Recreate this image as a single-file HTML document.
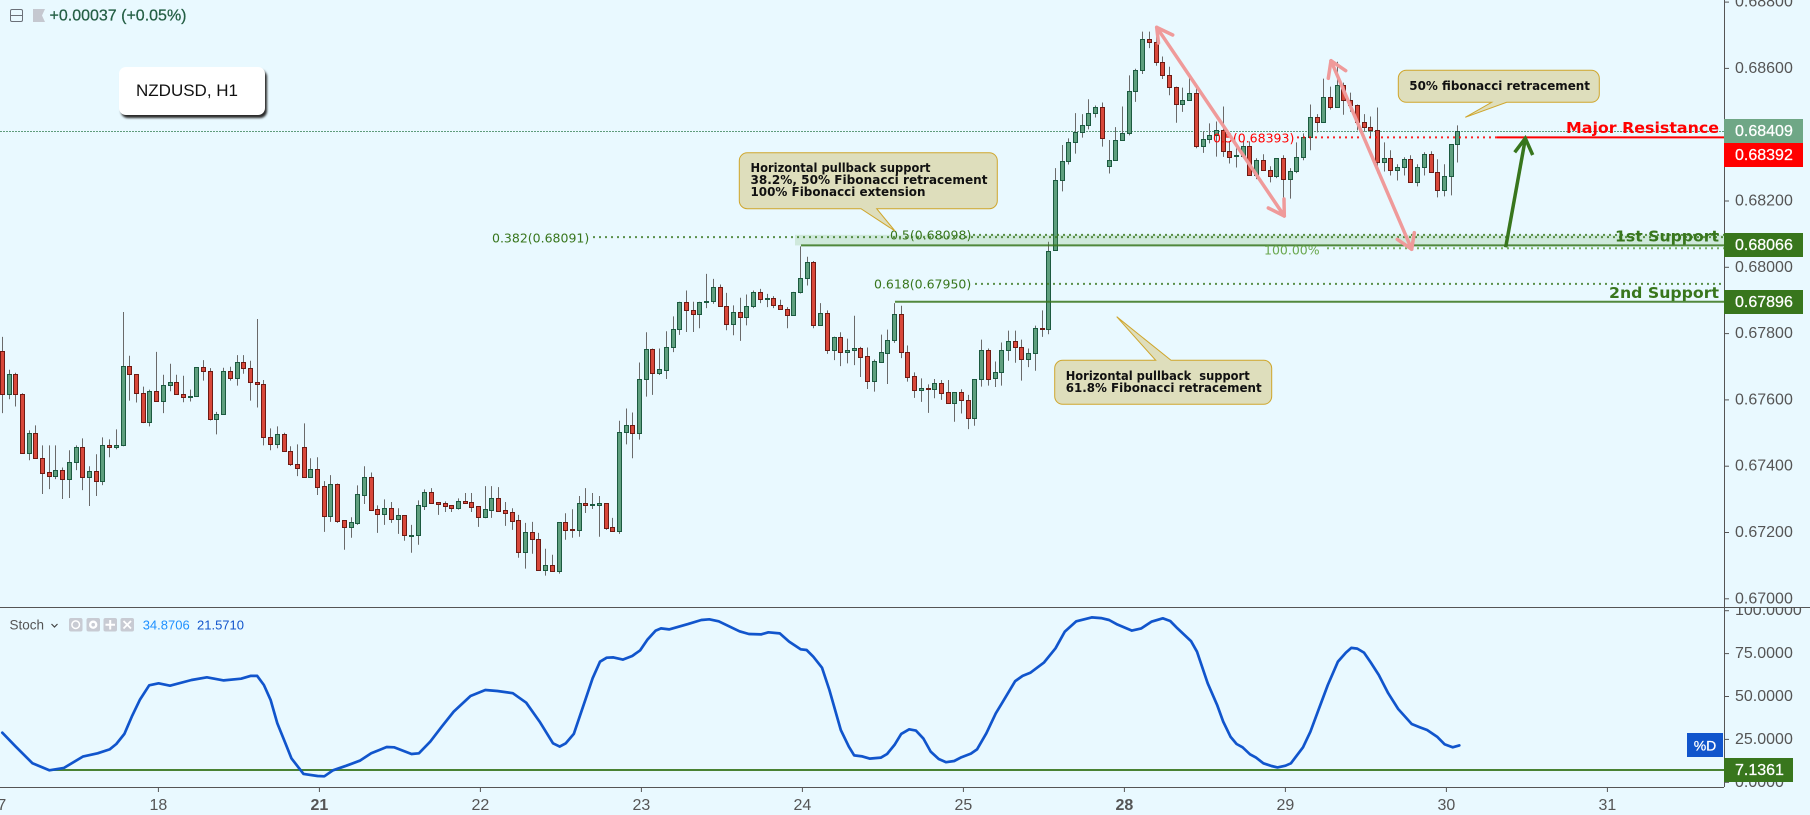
<!DOCTYPE html>
<html lang="en">
<head>
<meta charset="utf-8">
<title>NZDUSD, H1</title>
<style>
html,body{margin:0;padding:0;width:1810px;height:815px;overflow:hidden;background:#e9f9ff}
#chart{position:absolute;left:0;top:0;display:block}
#symbol-box{position:absolute;left:119px;top:67px;width:146px;height:48px;background:#fff;border-radius:7px;box-shadow:2px 3px 2px #2b2b2b;font:17px "Liberation Sans",sans-serif;color:#111;display:flex;align-items:center;justify-content:flex-start;box-sizing:border-box;padding-left:17px}
text{font-family:"Liberation Sans",sans-serif}
.fib{font-family:"DejaVu Sans",sans-serif;font-size:12.5px;fill:#38761d;dominant-baseline:central}
.note{font-family:"DejaVu Sans",sans-serif;font-size:12.5px;font-weight:bold;fill:#111;dominant-baseline:central}
.lvl{font-family:"DejaVu Sans",sans-serif;font-size:15px;font-weight:bold;dominant-baseline:central}
.tick{font-size:16px;fill:#555;dominant-baseline:central}
.flag{font-size:16px;fill:#fff;stroke:#fff;stroke-width:.25;dominant-baseline:central}
.leg{font-size:13px;dominant-baseline:central}
</style>
</head>
<body>
<svg id="chart" xmlns="http://www.w3.org/2000/svg" width="1810" height="815" viewBox="0 0 1810 815">
  <defs>
    <clipPath id="pane-clip"><rect x="0" y="0" width="1724" height="607"/></clipPath>
    <clipPath id="stoch-clip"><rect x="0" y="608" width="1724" height="179"/></clipPath>
    <clipPath id="price-axis-clip"><rect x="1725" y="0" width="85" height="607"/></clipPath>
    <clipPath id="stoch-axis-clip"><rect x="1725" y="608" width="85" height="179"/></clipPath>
  </defs>
  <rect x="0" y="0" width="1810" height="815" fill="#e9f9ff"/>

  <line x1="0" x2="1724" y1="131.5" y2="131.5" stroke="#5f9c7c" stroke-width="1" stroke-dasharray="2 1"/>

  <g id="candles" clip-path="url(#pane-clip)"></g>

  <g id="levels" clip-path="url(#pane-clip)"></g>

  <g>
    <text class="fib" x="492" y="238">0.382(0.68091)</text>
    <text class="fib" x="890" y="235">0.5(0.68098)</text>
    <text class="fib" x="874" y="284">0.618(0.67950)</text>
    <text class="fib" x="1264" y="250" style="fill:#6aa84f">100.00%</text>
    <text class="fib" x="1213" y="138" style="fill:#ff0000">0.5(0.68393)</text>
    <text class="lvl" x="1566" y="128" fill="#ff0000" textLength="153" lengthAdjust="spacingAndGlyphs">Major Resistance</text>
    <text class="lvl" x="1615" y="236.5" fill="#38761d" textLength="104" lengthAdjust="spacingAndGlyphs">1st Support</text>
    <text class="lvl" x="1609" y="293" fill="#38761d" textLength="110" lengthAdjust="spacingAndGlyphs">2nd Support</text>
  </g>

  <g fill="none" stroke="#ef9a9a" stroke-width="3.5" stroke-linecap="round" stroke-linejoin="round">
    <path d="M1156.7 27.3 L1284.3 216"/>
    <path d="M1172.7 35 L1156.7 27.3 L1158.5 43"/>
    <path d="M1268.3 208 L1284.3 216 L1284 199"/>
  </g>
  <g fill="none" stroke="#ef9a9a" stroke-width="3.5" stroke-linecap="round" stroke-linejoin="round">
    <path d="M1331 60.7 L1411.7 249.3"/>
    <path d="M1345.7 70.7 L1331 60.7 L1328.3 78.3"/>
    <path d="M1397.3 239.3 L1411.7 249.3 L1414.3 232.7"/>
  </g>
  <g fill="none" stroke="#38761d" stroke-width="3.5" stroke-linecap="butt" stroke-linejoin="miter">
    <path d="M1505.7 247.3 L1525.3 139"/>
    <path d="M1514.7 152.3 L1525.3 138.3 L1532.7 155"/>
  </g>

  <g>
    <path d="M747.3 152.7 H989.3 a8 8 0 0 1 8 8 V200.7 a8 8 0 0 1 -8 8 H876.7 L895 231 L861 208.7 H747.3 a8 8 0 0 1 -8 -8 V160.7 a8 8 0 0 1 8 -8 Z" fill="#dedebc" stroke="#cfa62c" stroke-width="1"/>
    <text class="note" x="750.5" y="167.3" textLength="180" lengthAdjust="spacingAndGlyphs">Horizontal pullback support</text>
    <text class="note" x="750.5" y="179.3" textLength="237" lengthAdjust="spacingAndGlyphs">38.2%, 50% Fibonacci retracement</text>
    <text class="note" x="750.5" y="191.3" textLength="175" lengthAdjust="spacingAndGlyphs">100% Fibonacci extension</text>
  </g>
  <g>
    <path d="M1062.7 360.3 H1155.7 L1116.7 316.7 L1171 360.3 H1263.7 a8 8 0 0 1 8 8 V396.3 a8 8 0 0 1 -8 8 H1062.7 a8 8 0 0 1 -8 -8 V368.3 a8 8 0 0 1 8 -8 Z" fill="#dedebc" stroke="#cfa62c" stroke-width="1"/>
    <text class="note" x="1065.7" y="375.7" textLength="184" lengthAdjust="spacingAndGlyphs" xml:space="preserve">Horizontal pullback  support</text>
    <text class="note" x="1065.7" y="387.7" textLength="196" lengthAdjust="spacingAndGlyphs">61.8% Fibonacci retracement</text>
  </g>
  <g>
    <path d="M1406.3 70.3 H1591.3 a8 8 0 0 1 8 8 V94.3 a8 8 0 0 1 -8 8 H1506.7 L1465.3 117.3 L1491.7 102.3 H1406.3 a8 8 0 0 1 -8 -8 V78.3 a8 8 0 0 1 8 -8 Z" fill="#dedebc" stroke="#cfa62c" stroke-width="1"/>
    <text class="note" x="1409.3" y="85.7" textLength="180.7" lengthAdjust="spacingAndGlyphs">50% fibonacci retracement</text>
  </g>

  <g id="stoch" clip-path="url(#stoch-clip)"></g>

  <line x1="0" x2="1810" y1="607.5" y2="607.5" stroke="#555" stroke-width="1"/>
  <line x1="0" x2="1724" y1="787.5" y2="787.5" stroke="#555" stroke-width="1"/>
  <line x1="1724.5" x2="1724.5" y1="0" y2="787" stroke="#555" stroke-width="1"/>

  <g id="price-axis" clip-path="url(#price-axis-clip)"></g>
  <g id="stoch-axis" clip-path="url(#stoch-axis-clip)"></g>
  <g id="time-axis"></g>

  <g>
    <rect x="1724" y="119" width="79" height="24" fill="#6fa786"/>
    <text class="flag" x="1735" y="131.5">0.68409</text>
    <rect x="1724" y="143" width="79" height="24" fill="#ff0000"/>
    <text class="flag" x="1735" y="155.5">0.68392</text>
    <rect x="1724" y="233" width="79" height="24" fill="#38761d"/>
    <text class="flag" x="1735" y="245.5">0.68066</text>
    <rect x="1724" y="290" width="79" height="24" fill="#38761d"/>
    <text class="flag" x="1735" y="302.5">0.67896</text>
    <rect x="1687" y="733" width="36" height="24" fill="#1155cc"/>
    <text class="flag" x="1705" y="745.5" text-anchor="middle" style="font-size:14px">%D</text>
    <rect x="1724" y="758" width="69" height="24" fill="#38761d"/>
    <text class="flag" x="1735" y="770.5">7.1361</text>
  </g>

  <g>
    <g>
      <rect x="10.5" y="9.5" width="12" height="12" rx="1.5" fill="none" stroke="#6b7078" stroke-width="1"/>
      <line x1="11" x2="22" y1="15.5" y2="15.5" stroke="#6b7078" stroke-width="1"/>
    </g>
    <path d="M33 9 H45 L42 15.5 L45 22 H33 Z" fill="#c5c8d0"/>
    <text x="49.5" y="16" style="font-size:16px;dominant-baseline:central;stroke:#245f45;stroke-width:.25" fill="#245f45">+0.00037 (+0.05%)</text>
  </g>

  <g>
    <text class="leg" x="9.5" y="625" fill="#555" style="font-size:13.5px">Stoch</text>
    <path d="M51.5 624 L54.5 627 L57.5 624" fill="none" stroke="#444" stroke-width="1.2"/>
    <rect x="69" y="618" width="13.5" height="13.5" rx="2" fill="#c8cbd3"/>
    <circle cx="75.7" cy="624.7" r="3.8" fill="none" stroke="#fff" stroke-width="1.5"/>
    <rect x="86.5" y="618" width="13.5" height="13.5" rx="2" fill="#c8cbd3"/>
    <circle cx="93.2" cy="624.7" r="3" fill="none" stroke="#fff" stroke-width="2.4"/>
    <rect x="103.5" y="618" width="13.5" height="13.5" rx="2" fill="#c8cbd3"/>
    <path d="M110.2 620 V629.5 M105.5 624.7 H115" stroke="#fff" stroke-width="2"/>
    <rect x="120.5" y="618" width="13.5" height="13.5" rx="2" fill="#c8cbd3"/>
    <path d="M123.5 621 L131 628.5 M131 621 L123.5 628.5" stroke="#fff" stroke-width="1.8"/>
    <text class="leg" x="142.7" y="625" fill="#1e90ff">34.8706</text>
    <text class="leg" x="197" y="625" fill="#1155cc">21.5710</text>
  </g>
</svg>
<div id="symbol-box">NZDUSD, H1</div>

<script>
// OHLC values, in 0.00001 price units, one entry per hourly bar
const opens = [
67747,67617,67678,67618,67440,67501,67426,67381,67371,67390,
67362,67413,67459,67368,67387,67356,67465,67458,67463,67702,
67678,67621,67533,67627,67596,67644,67654,67618,67609,67611,
67699,67687,67542,67557,67687,67665,67714,67696,67654,67648,
67489,67467,67498,67447,67408,67459,67368,67393,67339,67251,
67345,67237,67218,67230,67314,67366,67270,67257,67273,67242,
67252,67190,67191,67281,67321,67292,67288,67282,67275,67295,
67291,67279,67248,67269,67303,67267,67261,67237,67140,67201,
67180,67086,67102,67083,67231,67211,67209,67288,67283,67283,
67288,67216,67206,67504,67525,67500,67664,67755,67682,67691,
67760,67814,67896,67872,67859,67895,67898,67941,67884,67829,
67866,67850,67883,67926,67904,67908,67887,67875,67856,67925,
67968,68016,67826,67863,67751,67791,67745,67751,67758,67731,
67658,67715,67742,67782,67860,67746,67671,67629,67635,67632,
67650,67623,67590,67623,67599,67545,67662,67752,67665,67683,
67752,67779,67761,67722,67740,67818,67815,68053,68263,68320,
68377,68407,68428,68464,68485,68305,68323,68383,68404,68533,
68596,68689,68680,68620,68581,68545,68494,68506,68527,68365,
68386,68398,68413,68350,68335,68337,68365,68278,68323,68293,
68275,68329,68266,68290,68332,68392,68452,68437,68515,68485,
68551,68506,68491,68437,68422,68413,68317,68329,68293,68302,
68326,68257,68302,68341,68287,68233,68275,68371];
const highs = [
67790,67691,67682,67620,67508,67523,67463,67463,67463,67396,
67448,67463,67484,67400,67436,67487,67481,67511,67865,67733,
67678,67640,67631,67745,67676,67709,67676,67673,67631,67699,
67720,67696,67564,67697,67700,67735,67735,67718,67844,67660,
67514,67520,67501,67460,67466,67529,67424,67427,67355,67373,
67348,67237,67246,67342,67400,67381,67282,67300,67292,67273,
67252,67223,67297,67330,67334,67292,67294,67283,67303,67319,
67319,67279,67340,67340,67337,67292,67273,67253,67229,67232,
67199,67151,67133,67231,67258,67270,67310,67334,67319,67310,
67288,67244,67537,67574,67562,67713,67804,67755,67755,67807,
67852,67896,67930,67896,67896,67980,67965,67948,67923,67885,
67908,67918,67930,67935,67920,67913,67902,67880,67926,68063,
68032,68019,67892,67870,67791,67804,67785,67854,67760,67758,
67722,67797,67812,67892,67884,67764,67683,67665,67647,67663,
67660,67660,67623,67632,67615,67663,67782,67755,67716,67773,
67809,67809,67782,67755,67824,67870,68077,68299,68369,68389,
68465,68462,68507,68488,68497,68384,68423,68485,68579,68599,
68711,68711,68720,68636,68605,68545,68542,68584,68548,68410,
68434,68440,68485,68380,68359,68380,68380,68329,68341,68305,
68329,68338,68299,68377,68404,68491,68462,68569,68545,68620,
68557,68527,68491,68462,68455,68482,68377,68353,68311,68332,
68338,68311,68347,68350,68326,68311,68371,68428];
const lows = [
67560,67602,67580,67440,67418,67425,67316,67331,67361,67301,
67304,67388,67328,67280,67310,67343,67427,67451,67460,67598,
67592,67530,67520,67596,67560,67626,67617,67593,67595,67611,
67658,67538,67496,67557,67658,67643,67679,67598,67577,67463,
67448,67454,67446,67401,67370,67368,67368,67313,67202,67232,
67229,67148,67184,67223,67286,67269,67199,67223,67229,67196,
67175,67139,67163,67268,67290,67253,67262,67262,67269,67290,
67262,67217,67243,67244,67262,67220,67208,67124,67091,67136,
67086,67070,67083,67076,67178,67184,67187,67259,67271,67187,
67208,67203,67196,67466,67424,67480,67610,67615,67675,67663,
67744,67796,67805,67805,67816,67877,67890,67883,67810,67795,
67778,67825,67877,67892,67880,67877,67874,67816,67856,67921,
67945,67816,67826,67739,67720,67702,67710,67705,67669,67633,
67625,67712,67648,67772,67726,67655,67606,67594,67561,67605,
67600,67590,67534,67559,67512,67522,67640,67643,67639,67643,
67718,67712,67658,67699,67688,67790,67798,68053,68229,68310,
68343,68391,68416,68452,68364,68283,68323,68383,68398,68499,
68583,68661,68608,68568,68519,68436,68469,68506,68359,68345,
68374,68334,68333,68313,68301,68331,68278,68266,68293,68256,
68269,68159,68207,68284,68323,68353,68407,68437,68476,68485,
68460,68469,68413,68409,68389,68284,68289,68277,68262,68277,
68257,68244,68277,68287,68211,68214,68217,68316];
const closes = [
67617,67678,67617,67440,67501,67425,67380,67371,67390,67362,
67414,67459,67368,67387,67356,67465,67458,67465,67702,67677,
67620,67533,67627,67596,67645,67654,67617,67608,67612,67699,
67686,67542,67558,67687,67665,67714,67695,67653,67648,67488,
67467,67498,67446,67407,67395,67368,67393,67338,67251,67345,
67236,67218,67231,67315,67366,67269,67257,67273,67242,67252,
67191,67192,67282,67321,67290,67287,67281,67275,67294,67290,
67278,67248,67270,67303,67266,67260,67236,67140,67201,67179,
67086,67102,67083,67231,67209,67209,67288,67284,67286,67288,
67215,67206,67504,67525,67500,67663,67755,67682,67692,67761,
67815,67896,67871,67859,67896,67899,67941,67883,67829,67866,
67850,67884,67926,67904,67908,67886,67874,67856,67926,67968,
68016,67826,67863,67751,67791,67745,67752,67758,67730,67658,
67716,67743,67782,67860,67746,67670,67629,67635,67632,67650,
67622,67590,67623,67599,67545,67662,67752,67662,67683,67752,
67779,67760,67722,67740,67818,67814,68049,68263,68320,68377,
68407,68428,68464,68485,68391,68323,68383,68404,68533,68596,
68689,68680,68620,68581,68545,68494,68506,68527,68365,68386,
68398,68413,68350,68334,68338,68365,68278,68323,68293,68275,
68329,68266,68290,68332,68392,68452,68437,68515,68485,68551,
68506,68491,68437,68422,68413,68317,68329,68293,68302,68326,
68257,68302,68341,68287,68233,68275,68371,68410];

// Stochastic %D: bar position and value of each point
const stochBars = [
0,2,4.5,7,9.2,12,14.2,16,17,18.2,19.3,20.5,21.9,23.3,25,28.2,30.5,33,35.6,37,38,39,40,41,42.2,43.1,44.9,47,48,49.3,
51.3,53.3,55,57.3,58.4,61,62.1,63.8,65.5,67.3,69.8,72,73.8,76.1,78.1,80.1,82.1,83.1,84,85.2,87,88,
89.1,90.1,91.1,92.5,93.9,95.1,96.2,97.4,98.2,99.4,102.2,104.2,105.4,106.8,109.9,111.3,113.1,114.2,115.9,117.3,119,119.9,120.9,122.2,123.3,125,126.2,127,128.2,129.3,131,131.9,133,134,135.2,136.2,137.3,138.4,139.6,140.7,141.9,143,144.4,145.3,146.7,148.1,149,151,152.1,153.3,155.3,157,158.4,160.1,162.4,163.8,165,166.1,168.4,169.8,171.3,173,174.1,175.2,177.2,178.1,
179.7,181.1,182,183.1,184,184.9,186,186.9,188,189.2,190.1,191.3,192.1,193.9,195,196.2,197.6,199.1,200.3,201.1,202,203,204,205.2,206.6,208.1,210.1,211.3,212.4,213.9,215,216.2,217.2];
const stochValues = [
28.9,20.8,11.1,7,8.4,15,16.9,19.2,22.3,28.2,38.3,48,56.5,57.7,56.3,59.6,61.2,59.4,60.4,62,62,56.7,48,34.4,22.7,14,4.9,3.7,3.5,7,
9.7,12.6,16.9,20.6,20.4,16.5,16.9,23.7,32.4,41.2,50.3,53.8,53.2,51.9,46.4,35.4,22.7,20.8,22.7,28.2,49,60.6,
70.3,72.6,72.8,71.5,73.6,76.9,83.3,88.4,89.7,89.1,92.2,94.6,95,93.8,88,86.4,86.2,87.4,86.8,82,77.5,77.1,73.2,66.8,53.8,30.5,20.8,15.7,15.1,13.8,14.4,16.5,21.8,28.2,30.9,30.1,25.6,17.9,13.6,11.7,12.4,14.6,16.7,19.2,28.6,40.2,46,59,62,63.9,69.9,78.1,87.8,93.8,96.1,95.7,94.6,92.2,88.4,89.7,93.6,95.6,94,89.7,82.3,76.1,
57.7,45.1,35.4,26.6,22.3,20.4,16.3,14.4,11.1,9.5,8.7,9.7,11.1,20.4,29.5,42.1,56.7,70.3,75.6,78.3,77.9,75.6,69.9,62.5,51.9,42.7,34,32.1,30.5,26.6,22.2,20.4,21.5];

// Axis tick labels
const priceTicks = ["0.68800","0.68600","0.68200","0.68000","0.67800","0.67600","0.67400","0.67200","0.67000"];
const stochTicks = ["100.0000","75.0000","50.0000","25.0000","0.0000"];
const dayLabels = ["17","18","21","22","23","24","25","28","29","30","31"];
const boldDays = ["21","28"];

// Fibonacci and support / resistance levels, in 0.00001 price units
const fib382 = 68091;
const fib500 = 68098;
const fib618 = 67950;
const fib100 = 68060;
const resistance = 68392;
const support1 = 68066;
const support2 = 67896;
const stochLevel = 7.1361;

const SVGNS = "http://www.w3.org/2000/svg";

function xBar(i) { return 2.3 + i * 6.708; }
function xDay(k) { return -2.6 + k * 161; }
function yPrice(p) { return 267.3 - (p - 68000) * 0.3315; }
function yStoch(v) { return 782.3 - v * 1.716; }

function mk(tag, attrs, parent) {
  const el = document.createElementNS(SVGNS, tag);
  for (const k in attrs) el.setAttribute(k, attrs[k]);
  parent.appendChild(el);
  return el;
}

// Candles
const candleGroup = document.getElementById("candles");
opens.forEach(function (o, i) {
  const c = closes[i];
  const up = c >= o;
  const x0 = Math.round(xBar(i) - 2.5);
  const topY = Math.round(yPrice(Math.max(o, c)));
  const botY = Math.round(yPrice(Math.min(o, c)));
  const wick = mk("line", { x1: x0 + 2.5, x2: x0 + 2.5, y1: yPrice(highs[i]), y2: yPrice(lows[i]), stroke: "#6a6a6a", "stroke-width": 1 }, candleGroup);
  
  
  const body = mk("rect", { x: x0 + 0.5, y: topY + 0.5, width: 4, height: Math.max(1, botY - topY), fill: up ? "#5e9f7e" : "#d8483a", stroke: up ? "#1c5a40" : "#6e1b14", "stroke-width": 1 }, candleGroup);
  
  
});

// Levels
const levelGroup = document.getElementById("levels");
const bandEl = mk("rect", { x: 795, y: yPrice(fib500), width: 929, height: yPrice(support1) - yPrice(fib500), fill: "#6aa84f", "fill-opacity": 0.2 }, levelGroup);



const dot382 = mk("line", { x1: 593, x2: 1724, y1: yPrice(fib382), y2: yPrice(fib382), stroke: "#38761d", "stroke-width": 2, "stroke-dasharray": "2 4", opacity: 0.8 }, levelGroup);


const dot500 = mk("line", { x1: 973, x2: 1724, y1: yPrice(fib500), y2: yPrice(fib500), stroke: "#38761d", "stroke-width": 2, "stroke-dasharray": "2 4", opacity: 0.8 }, levelGroup);


const dot618 = mk("line", { x1: 975, x2: 1724, y1: yPrice(fib618), y2: yPrice(fib618), stroke: "#38761d", "stroke-width": 2, "stroke-dasharray": "2 4", opacity: 0.8 }, levelGroup);


const dot100 = mk("line", { x1: 1327, x2: 1724, y1: yPrice(fib100) + 0.9, y2: yPrice(fib100) + 0.9, stroke: "#6aa84f", "stroke-width": 2, "stroke-dasharray": "2 4", opacity: 0.9 }, levelGroup);


const dotRes = mk("line", { x1: 1297, x2: 1497, y1: yPrice(resistance), y2: yPrice(resistance), stroke: "#ff0000", "stroke-width": 2, "stroke-dasharray": "2 4", opacity: 0.85 }, levelGroup);


const lineRes = mk("line", { x1: 1497, x2: 1724, y1: yPrice(resistance), y2: yPrice(resistance), stroke: "#ff0000", "stroke-width": 2 }, levelGroup);


const lineS1 = mk("line", { x1: 801, x2: 1724, y1: yPrice(support1), y2: yPrice(support1), stroke: "#38761d", "stroke-width": 2, opacity: 0.85 }, levelGroup);


const lineS2 = mk("line", { x1: 895, x2: 1724, y1: yPrice(support2), y2: yPrice(support2), stroke: "#38761d", "stroke-width": 2, opacity: 0.85 }, levelGroup);



// Stochastic pane
const stochGroup = document.getElementById("stoch");
const stochLevelLine = mk("line", { x1: 50, x2: 1724, y1: yStoch(stochLevel), y2: yStoch(stochLevel), stroke: "#38761d", "stroke-width": 2, opacity: 0.9 }, stochGroup);


const stochPts = stochBars.map(function (b, i) { return xBar(b).toFixed(1) + "," + yStoch(stochValues[i]).toFixed(1); }).join(" ");
const stochLine = mk("polyline", { points: stochPts, fill: "none", stroke: "#1155cc", "stroke-width": 2.7, "stroke-linejoin": "round", "stroke-linecap": "round" }, stochGroup);



// Price axis
const priceAxis = document.getElementById("price-axis");
priceTicks.forEach(function (t) {
  const y = yPrice(parseFloat(t) * 100000);
  const mark = mk("line", { x1: 1724, x2: 1729, y1: y, y2: y, stroke: "#555", "stroke-width": 1 }, priceAxis);
  
  
  const label = mk("text", { x: 1735, y: y, "class": "tick" }, priceAxis);
  
  
  label.textContent = t;
});

// Stochastic axis
const stochAxis = document.getElementById("stoch-axis");
stochTicks.forEach(function (t) {
  const y = yStoch(parseFloat(t));
  const mark = mk("line", { x1: 1724, x2: 1729, y1: y, y2: y, stroke: "#555", "stroke-width": 1 }, stochAxis);
  
  
  const label = mk("text", { x: 1735, y: y, "class": "tick" }, stochAxis);
  
  
  label.textContent = t;
});

// Time axis
const timeAxis = document.getElementById("time-axis");
dayLabels.forEach(function (d, k) {
  const x = xDay(k);
  const mark = mk("line", { x1: x, x2: x, y1: 787, y2: 792, stroke: "#555", "stroke-width": 1 }, timeAxis);
  
  
  const label = mk("text", { x: x, y: 805.5, "class": "tick", "text-anchor": "middle", "font-weight": boldDays.indexOf(d) >= 0 ? "bold" : "normal" }, timeAxis);
  
  
  label.textContent = d;
});
</script>
</body>
</html>
